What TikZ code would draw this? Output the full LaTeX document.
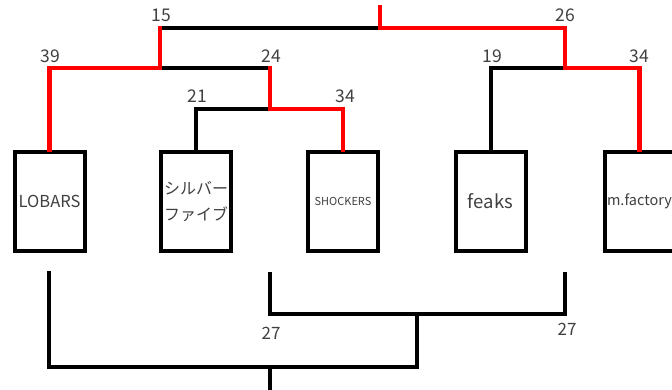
\documentclass[tikz,border=0pt]{standalone}
\usepackage{fontspec}
\setmainfont{Noto Sans CJK JP}
\definecolor{txtgray}{HTML}{404040}
\definecolor{hired}{HTML}{FF0000}
\begin{document}
\begin{tikzpicture}[x=1pt,y=-1pt,
  blk/.style={draw=black,line width=4pt,line join=miter,line cap=rect},
  redline/.style={draw=hired,line width=4.5pt,line join=miter,line cap=rect},
  team/.style={draw=black,line width=4pt,rectangle,minimum width=70pt,minimum height=99pt,inner sep=0pt,text=txtgray,align=center,fill=white},
  score/.style={text=txtgray,font=\fontsize{17.5}{20}\selectfont,inner sep=0pt,anchor=base},
  bscore/.style={text=txtgray,font=\fontsize{17}{20}\selectfont,inner sep=0pt,anchor=base}]
\useasboundingbox (0,0) rectangle (672,390);
% boxes
\node[team,font=\fontsize{16.5}{20}\selectfont] (b1) at (49.5,201.5) {LOBARS};
\node[team,font=\fontsize{16}{26}\selectfont] (b2) at (196,201.5) {シルバー\\ファイブ};
\node[team,font=\fontsize{11}{14}\selectfont] (b3) at (343,201.5) {SHOCKERS};
\node[team,font=\fontsize{18.5}{22}\selectfont] (b4) at (490.5,201.5) {feaks};
\node[team,font=\fontsize{14.5}{18}\selectfont] (b5) at (639.5,201.5) {m.factory};
% junction coordinates
\coordinate (top) at (380,7);
\coordinate (root) at (380,28);
\coordinate (n15) at (160,28);
\coordinate (n26) at (565,28);
\coordinate (n15b) at (160,68);
\coordinate (n39) at (49,68);
\coordinate (n24) at (270,68);
\coordinate (n24b) at (270,109);
\coordinate (n21) at (197,109);
\coordinate (n34a) at (344,109);
\coordinate (n19) at (490,68);
\coordinate (n26b) at (565,68);
\coordinate (n34b) at (638,68);
% black branches
\draw[blk] (n15) -- (root);
\draw[blk] (n15b) -- (n24);
\draw[blk] (b2.north) |- (n24b);
\draw[blk] (b4.north) |- (n26b);
% red path
\draw[redline] (top) -- (root) -- (n26) -- (n26b) -| (b5.north);
\draw[redline] (n15) -- (n15b) -| (b1.north);
\draw[redline] (n24) -- (n24b) -| (b3.north);
% score labels
\node[score] (s15) at (161,22) {15};
\node[score] (s26) at (565.5,22) {26};
\node[score] (s39) at (50,63) {39};
\node[score] (s24) at (271,63) {24};
\node[score] (s19) at (492,63) {19};
\node[score] (s34b) at (639.5,63) {34};
\node[score] (s21) at (197,103) {21};
\node[score] (s34a) at (345,103) {34};
% lower bracket
\coordinate (l1) at (49,273);
\coordinate (l2) at (417,367);
\coordinate (lj) at (417,314);
\coordinate (m1) at (270,274);
\coordinate (m2) at (565,274);
\coordinate (t1) at (270,367);
\coordinate (t2) at (270,392);
\draw[blk] (m1) |- (m2 |- lj) -- (m2);
\draw[blk] (l1) |- (l2) -- (lj);
\draw[blk] (t1) -- (t2);
\node[bscore] (s27a) at (271,339) {27};
\node[bscore] (s27b) at (567,335) {27};
\end{tikzpicture}
\end{document}
